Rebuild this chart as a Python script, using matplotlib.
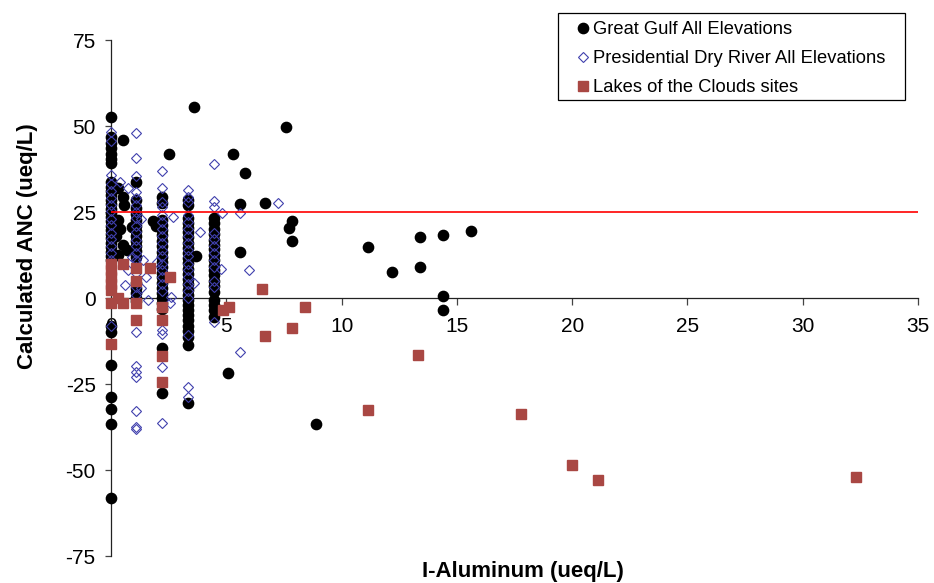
import matplotlib
matplotlib.use("Agg")
import matplotlib.pyplot as plt
from matplotlib.patches import Rectangle

plt.rcParams["font.family"] = ["Liberation Sans", "DejaVu Sans"]
plt.rcParams["axes.unicode_minus"] = False

# discrete I-Al levels where most samples sit (ueq/L)
al_levels = [0.0, 1.1, 2.2, 3.35, 4.45]

# Great Gulf: ANC values stacked at each discrete Al level
gulf_anc_cols = [
    [52.5, 46.8, 45.0, 43.6, 42.0, 40.5, 39.2, 33.7, 32.3, 31.0, 29.8, 28.5, 27.2,
     26.0, 24.8, 23.5, 22.3, 21.0, 19.8, 18.5, 17.3, 16.0, 14.8, 13.5, 12.3, 11.0,
     -8.0, -10.0, -19.5, -28.8, -32.3, -36.5, -58.0],
    [33.7, 28.5, 26.2, 24.3, 22.6, 21.0, 19.4, 18.1, 16.5, 15.0, 13.6, 12.0, 4.5,
     3.0, 1.4, 0.0, -1.0],
    [29.4, 27.6, 22.7, 21.1, 19.8, 18.2, 16.5, 15.1, 13.4, 12.0, 10.6, 9.0, 7.4,
     6.1, 4.5, 3.0, 1.5, 0.0, -1.5, -3.2, -14.5, -27.6],
    [28.5, 27.0, 23.3, 21.9, 20.4, 19.1, 17.6, 16.0, 14.4, 13.1, 11.5, 10.1, 8.5,
     7.0, 5.6, 4.0, 2.4, 1.0, -0.5, -2.1, -3.6, -5.0, -6.5, -8.1, -9.6, -11.2,
     -13.7, -30.5],
    [23.3, 21.8, 20.1, 18.6, 17.0, 15.4, 14.1, 12.5, 11.0, 9.4, 8.0, 6.6, 5.0,
     3.5, 1.6, -0.6, -2.0, -3.5, -5.5],
]
gulf_x = [0.5, 0.3, 0.5, 0.55, 0.3, 0.4, 0.9, 0.2, 0.5, 0.7, 0.3, 1.8, 1.95,
          2.5, 3.6, 3.7, 5.3, 5.8, 5.6, 5.6, 6.7, 7.6, 7.85, 7.7, 7.85, 11.15,
          12.2, 13.4, 13.4, 14.4, 15.6, 14.4, 14.4, 5.07, 8.9]
gulf_y = [46.0, 32.0, 29.4, 27.0, 22.6, 20.0, 20.6, 18.0, 15.4, 14.0, 12.5,
          22.5, 21.0, 42.0, 55.5, 12.2, 42.0, 36.3, 27.3, 13.4, 27.6, 49.7, 22.4,
          20.3, 16.6, 14.9, 7.6, 17.6, 9.1, 18.3, 19.5, 0.6, -3.5, -21.8, -36.6]

# Presidential Dry River
dry_anc_cols = [
    [48.3, 45.5, 35.8, 33.0, 31.0, 29.1, 27.0, 25.2, 23.0, 21.1, 19.0, 17.2, 15.0,
     13.1, 11.0, -8.0],
    [48.0, 40.7, 35.5, 30.8, 29.0, 27.1, 25.0, 23.2, 21.0, 19.1, 17.0, 15.2, 13.0,
     11.1, 9.0, 7.2, 5.0, 3.1, 1.0, -9.8, -19.8, -21.5, -23.0, -32.8, -37.6, -38.2],
    [37.0, 32.0, 28.0, 26.5, 24.1, 22.0, 20.1, 18.0, 16.1, 14.0, 12.1, 10.0, 8.1,
     6.0, 4.1, 2.0, -9.3, -10.5, -20.0, -36.3],
    [31.4, 29.5, 28.0, 24.1, 22.0, 20.1, 18.0, 16.1, 14.0, 12.1, 10.0, 8.1, 6.0,
     4.1, 2.0, 0.0, -10.8, -25.8, -28.7],
    [39.0, 28.2, 26.5, 19.0, 17.1, 15.0, 13.1, 11.0, 9.1, 5.0, 3.1, -7.0],
]
dry_x = [0.4, 0.75, 0.75, 0.6, 1.6, 2.55, 2.0, 2.7, 3.86, 4.8, 4.77, 3.6, 5.6,
         7.25, 5.6, 6.0, 1.5, 1.3, 0.9, 1.4, 2.6, 1.3]
dry_y = [33.7, 32.0, 8.0, 3.8, -0.6, -1.5, 10.5, 23.5, 19.2, 24.7, 8.4, 4.4, 24.7,
         27.6, -15.7, 8.1, 6.0, 3.0, 12.0, 11.0, 0.3, 23.0]

# Lakes of the Clouds
lakes_x = [0.0, 0.5, 0.0, 0.0, 0.0, 0.0, 0.3, 0.0, 0.5, 0.0, 1.1, 1.7, 1.1, 2.55,
           1.1, 1.1, 2.2, 2.2, 2.2, 2.2, 4.85, 5.1, 6.55, 6.68, 7.85, 8.4, 13.3,
           11.15, 17.8, 20.0, 21.1, 32.3]
lakes_y = [10.0, 10.0, 8.0, 6.0, 4.0, 2.3, 0.0, -1.5, -1.5, -13.5, 8.7, 8.7, 5.0,
           6.0, -1.5, -6.4, -2.6, -6.4, -17.0, -24.4, -3.5, -2.6, 2.6, -11.0, -8.7,
           -2.6, -16.6, -32.6, -33.7, -48.5, -53.0, -52.0]

anc_threshold = 25


def stack(levels, cols, xs, ys):
    px, py = [], []
    for lv, col in zip(levels, cols):
        px += [lv] * len(col)
        py += col
    return px + xs, py + ys


gx, gy = stack(al_levels, gulf_anc_cols, gulf_x, gulf_y)
dx, dy = stack(al_levels, dry_anc_cols, dry_x, dry_y)

W, H = 934, 583
fig = plt.figure(figsize=(W / 100, H / 100), dpi=100)
ax = fig.add_axes([111 / W, 27 / H, 807 / W, 516 / H])

ax.plot(gx, gy, "o", color="black", ms=7.4, ls="none", zorder=3, clip_on=False,
        label="Great Gulf All Elevations")
ax.plot(dx, dy, "D", mfc="none", mec="#4040ad", mew=0.8, ms=4.7, ls="none",
        zorder=4, clip_on=False, label="Presidential Dry River All Elevations")
ax.plot(lakes_x, lakes_y, "s", color="#a94743", ms=7.4, ls="none", zorder=5,
        clip_on=False, label="Lakes of the Clouds sites")
ax.axhline(anc_threshold, color="red", lw=1.2, zorder=6)

ax.set_xlim(0, 35)
ax.set_ylim(-75, 75)
ax.set_xticks(range(0, 36, 5))
ax.set_yticks(range(-75, 76, 25))

ax.spines["top"].set_visible(False)
ax.spines["right"].set_visible(False)
ax.spines["bottom"].set_position(("data", 0))
for s in ("left", "bottom"):
    ax.spines[s].set_linewidth(0.9)
    ax.spines[s].set_color("#222222")
ax.tick_params(axis="x", direction="out", length=5, width=0.9, pad=9,
               labelsize=15, color="#444444")
ax.tick_params(axis="y", direction="out", length=4, width=0.9, pad=7,
               labelsize=15, color="#444444")

ax.set_xlabel("I-Aluminum (ueq/L)", fontsize=16, fontweight="bold")
ax.xaxis.set_label_coords(0.51, -0.01)
ax.set_ylabel("Calculated ANC (ueq/L)", fontsize=16, fontweight="bold")
ax.yaxis.set_label_coords(-0.09, 0.6)

# legend entries without frame, boxed by a separate rectangle
leg = fig.legend(loc="upper left", bbox_to_anchor=(577 / W, 1 - 21 / H),
                 fontsize=13.2, frameon=False, handlelength=0.69,
                 handletextpad=0.2, labelspacing=0.66, borderpad=0,
                 borderaxespad=0)
fig.patches.append(Rectangle((558 / W, 1 - 100 / H), 347 / W, 87 / H,
                             transform=fig.transFigure, fill=False,
                             edgecolor="black", lw=0.9))

fig.savefig("out.png", dpi=100)
